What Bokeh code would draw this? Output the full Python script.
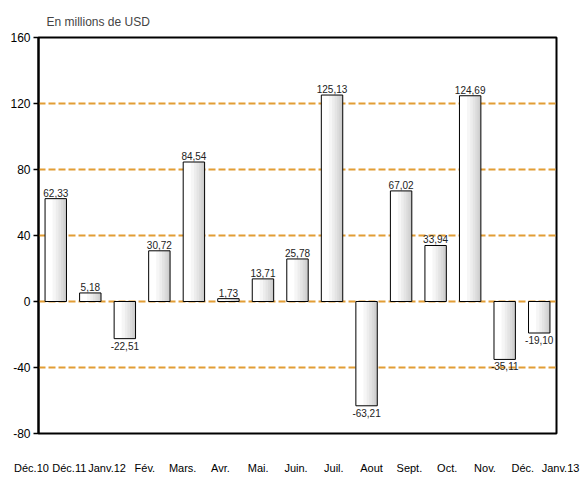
from bokeh.plotting import figure
from bokeh.models import ColumnDataSource, FixedTicker, Range1d, FactorRange
from bokeh.transform import dodge
from bokeh.core.properties import value
from bokeh.embed import file_html
from bokeh.resources import INLINE

months = ["Déc.10", "Déc.11", "Janv.12", "Fév.", "Mars.", "Avr.", "Mai.", "Juin.",
          "Juil.", "Aout", "Sept.", "Oct.", "Nov.", "Déc.", "Janv.13"]
values = [62.33, 5.18, -22.51, 30.72, 84.54, 1.73, 13.71, 25.78,
          125.13, -63.21, 67.02, 33.94, 124.69, -35.11, -19.10]
y_ticks = [-80, -40, 0, 40, 80, 120, 160]
title_text = "En millions de USD"

FONT = "Liberation Sans"
BAR_W = 0.62

labels = [f"{v:.2f}".replace(".", ",") for v in values]
src = ColumnDataSource(dict(m=months, v=values, lab=labels))
pos = ColumnDataSource(dict(m=[m for m, v in zip(months, values) if v >= 0],
                            v=[v for v in values if v >= 0],
                            lab=[l for l, v in zip(labels, values) if v >= 0]))
neg = ColumnDataSource(dict(m=[m for m, v in zip(months, values) if v < 0],
                            v=[v for v in values if v < 0],
                            lab=[l for l, v in zip(labels, values) if v < 0]))

p = figure(x_range=FactorRange(*months, range_padding=0),
           y_range=Range1d(y_ticks[0], y_ticks[-1]),
           frame_width=518, frame_height=396,
           min_border_left=38, min_border_right=17, min_border_top=37, min_border_bottom=8,
           output_backend="svg", toolbar_location=None, title=title_text)

p.title.text_font = FONT
p.title.text_font_size = "12px"
p.title.text_font_style = "normal"
p.title.offset = 8
p.title.standoff = 18

p.outline_line_color = "black"
p.outline_line_width = 2
p.background_fill_color = "white"
p.border_fill_color = "white"

p.xgrid.grid_line_color = None
p.ygrid.grid_line_color = "#E29D35"
p.ygrid.grid_line_width = 2
p.ygrid.grid_line_dash = "7 3"

p.yaxis.ticker = FixedTicker(ticks=y_ticks)
p.yaxis.major_label_overrides = {t: str(t) for t in y_ticks}
p.yaxis.axis_line_color = "black"
p.yaxis.axis_line_width = 2
p.yaxis.major_tick_line_color = "black"
p.yaxis.major_tick_line_width = 1.5
p.yaxis.major_tick_out = 5
p.yaxis.major_tick_in = 0
p.yaxis.minor_tick_line_color = None
p.yaxis.major_label_text_font = FONT
p.yaxis.major_label_text_font_size = "12px"
p.yaxis.major_label_text_color = "black"
p.yaxis.major_label_standoff = 3

p.xaxis.visible = False

# base bar
p.vbar(x="m", top="v", bottom=0, width=BAR_W, source=src,
       fill_color="white", line_color=None)
# gradient shading strips on the right side of each bar
for f in [0.35, 0.5, 0.62, 0.74, 0.84, 0.92]:
    w = BAR_W * (1 - f)
    p.vbar(x=dodge("m", BAR_W / 2 - w / 2, range=p.x_range), top="v", bottom=0,
           width=w, source=src, fill_color="black", fill_alpha=0.035, line_color=None)
# outline
p.vbar(x="m", top="v", bottom=0, width=BAR_W, source=src,
       fill_color=None, line_color="black", line_width=1)

p.text(x="m", y="v", text="lab", source=pos, text_align="center", text_baseline="bottom",
       y_offset=-2, text_font=value(FONT), text_font_size="10px", text_color="#222222")
p.text(x="m", y="v", text="lab", source=neg, text_align="center", text_baseline="top",
       y_offset=3, text_font=value(FONT), text_font_size="10px", text_color="#222222")

# category labels row, spread wider than the bars as in the original
LAB_LEFT, LAB_W = 10, 571
step = 37.79                     # px between label centres
first = 31                       # px centre of first label
s = -(first - LAB_LEFT) / step
e = s + LAB_W / step
lab_fig = figure(x_range=Range1d(s, e), y_range=Range1d(0, 1),
                 frame_width=LAB_W, frame_height=1,
                 min_border_left=LAB_LEFT, min_border_right=0, min_border_top=0, min_border_bottom=0,
                 output_backend="svg", toolbar_location=None)
lab_fig.outline_line_color = None
lab_fig.grid.grid_line_color = None
lab_fig.yaxis.visible = False
lab_fig.xaxis.ticker = FixedTicker(ticks=list(range(len(months))))
lab_fig.xaxis.major_label_overrides = {i: m for i, m in enumerate(months)}
lab_fig.xaxis.axis_line_color = None
lab_fig.xaxis.major_tick_line_color = None
lab_fig.xaxis.minor_tick_line_color = None
lab_fig.xaxis.major_label_text_font = FONT
lab_fig.xaxis.major_label_text_font_size = "11px"
lab_fig.xaxis.major_label_text_color = "black"
lab_fig.xaxis.major_label_standoff = 13
lab_fig.border_fill_color = "white"

open("out.html", "w").write(file_html([p, lab_fig], INLINE))
